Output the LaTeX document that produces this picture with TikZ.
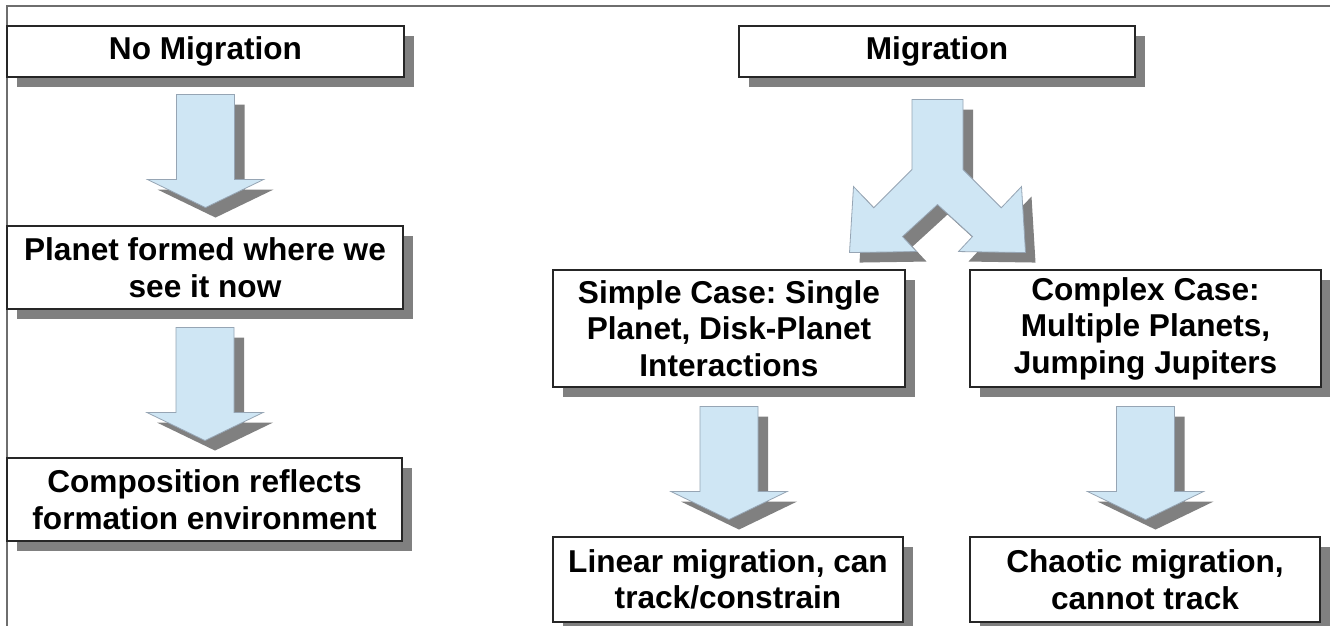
\documentclass[tikz,border=0pt]{standalone}
\usepackage{fontspec}
\setmainfont{Liberation Sans}
\usetikzlibrary{shadows,calc}
\definecolor{arrfill}{RGB}{207,230,244}
\definecolor{arrline}{RGB}{150,165,180}
\definecolor{shad}{RGB}{128,128,128}
\definecolor{framecol}{RGB}{110,110,110}
\frenchspacing
\begin{document}
\begin{tikzpicture}[x=1pt,y=-1pt,
  box/.style={draw=black!85, line width=1.1pt, fill=white, align=center, inner sep=0pt,
    font=\fontsize{31.6}{36.5}\selectfont\bfseries,
    drop shadow={shadow xshift=10pt, shadow yshift=-10pt, fill=shad, opacity=1}},
  arrbody/.style={fill=arrfill, draw=arrline, line width=0.8pt, line join=miter},
  arrshadow/.style={fill=shad},
  blockarr/.pic={
    \fill[arrshadow] (-19,10) -- (39,10) -- (39,95) -- (68,95) -- (10,123) -- (-48,95) -- (-19,95) -- cycle;
    \filldraw[arrbody] (-29,0) -- (29,0) -- (29,85) -- (58,85) -- (0,113) -- (-58,85) -- (-29,85) -- cycle;
  },
  splitarr/.pic={
    \begin{scope}[shift={(10,10)}]
    \fill[arrshadow] (-25.5,0) -- (25.5,0) -- (25.5,70) -- (63.75,108.25) -- (84,87) -- (88,153) -- (21,152)
      -- (35,137) -- (0,105) -- (-35,137) -- (-21,152) -- (-88,153) -- (-84,87) -- (-63.75,108.25) -- (-25.5,70) -- cycle;
    \end{scope}
    \filldraw[arrbody] (-25.5,0) -- (25.5,0) -- (25.5,70) -- (63.75,108.25) -- (84,87) -- (88,153) -- (21,152)
      -- (35,137) -- (0,105) -- (-35,137) -- (-21,152) -- (-88,153) -- (-84,87) -- (-63.75,108.25) -- (-25.5,70) -- cycle;
  }]
\useasboundingbox (0,0) rectangle (1330,626);
\fill[white] (0,0) rectangle (1330,626);
% frame
\draw[framecol, line width=1.6pt] (7,626) -- (7,6) -- (1330,6);

% left column
\node[box, minimum width=397pt, minimum height=51pt] (nomig) at (205.5,51.5) {No Migration};
\node[box, minimum width=396pt, minimum height=83pt] (formed) at (205,267.5) {Planet formed where we\\see it now};
\node[box, minimum width=395pt, minimum height=83pt] (comp) at (204.5,499.5) {Composition reflects\\formation environment};

% right column
\node[box, minimum width=396pt, minimum height=51pt] (mig) at (937,51.5) {Migration};
\node[box, minimum width=352pt, minimum height=117pt] (simple) at (729,328.5) {Simple Case: Single\\Planet, Disk-Planet\\Interactions};
\node[box, minimum width=351pt, minimum height=117pt] (complex) at (1145.5,328.5) {Complex Case:\\Multiple Planets,\\Jumping Jupiters};
\node[box, minimum width=350pt, minimum height=85pt] (linear) at (728,579.5) {Linear migration, can\\track/constrain};
\node[box, minimum width=350pt, minimum height=85pt] (chaotic) at (1145,579.5) {Chaotic migration,\\cannot track};

% block arrows
\pic at ($(nomig.south)+(0,17)$) {blockarr};
\pic at ($(formed.south)+(0,18)$) {blockarr};
\pic at ($(simple.south)+(0,19)$) {blockarr};
\pic at ($(complex.south)+(0,19)$) {blockarr};
\pic at ($(mig.south)+(0.5,22)$) {splitarr};
\end{tikzpicture}
\end{document}
